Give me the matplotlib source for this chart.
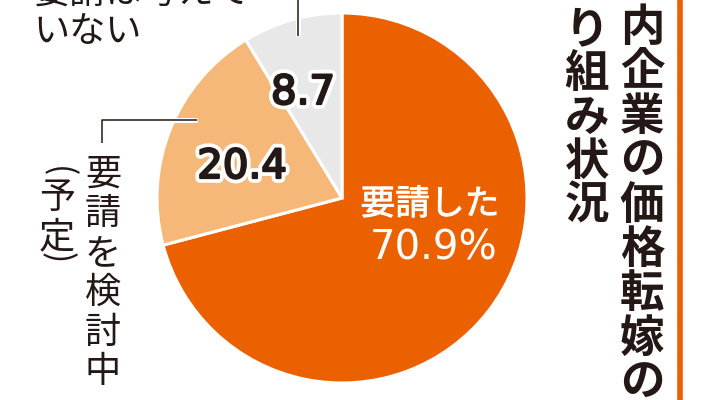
import matplotlib as mpl

mpl.use("Agg")

import matplotlib.pyplot as plt
from matplotlib import patheffects as pe

# shares of companies (%), clockwise from the top
categories = ["要請した", "要請を検討中", "要請は考えていない"]
shares = [70.9, 20.4, 8.7]
sub_note = "予定"
title_right = "内企業の価格転嫁の"
title_left = "り組み状況"

ORANGE = "#eb6100"
LIGHT = "#f5b878"
GRAY = "#e8e8e8"
INK = "#231815"
JP = ["Noto Sans CJK JP", "DejaVu Sans"]


def vtext(ax, x, y0, step, s, **kw):
    for i, ch in enumerate(s):
        ax.text(x, y0 + i * step, ch, ha="center", va="center", family=JP, **kw)


def main():
    fig = plt.figure(figsize=(7.11, 4.0), dpi=100)
    ax = fig.add_axes([0, 0, 1, 1])

    # pixel-like coordinates, y grows downward
    ax.pie(
        shares,
        colors=[ORANGE, LIGHT, GRAY],
        startangle=-90,
        counterclock=True,
        center=(342, 198),
        radius=185,
        wedgeprops=dict(edgecolor="white", linewidth=2.2),
    )
    ax.set_xlim(0, 711)
    ax.set_ylim(400, 0)
    ax.set_aspect("equal")
    ax.axis("off")

    # dark digits, slightly thickened, with a white halo
    halo = [
        pe.withStroke(linewidth=7, foreground="white"),
        pe.withStroke(linewidth=1.6, foreground=INK),
    ]
    ax.text(303, 93, f"{shares[2]}", ha="center", va="center", fontsize=29,
            color=INK, family="DejaVu Sans", path_effects=halo)
    ax.text(242, 167, f"{shares[1]}", ha="center", va="center", fontsize=29,
            color=INK, family="DejaVu Sans", path_effects=halo)

    ax.text(430, 205, categories[0], ha="center", va="center", fontsize=25,
            color="white", family=JP,
            path_effects=[pe.withStroke(linewidth=0.6, foreground="white")])
    ax.text(434, 249, f"{shares[0]}%", ha="center", va="center", fontsize=29,
            color="white", family="DejaVu Sans")

    # leader lines
    line_fx = [pe.Stroke(linewidth=3.6, foreground="white"), pe.Normal()]
    ax.plot([102, 102, 197], [143, 120, 120], color=INK, lw=1.1,
            solid_capstyle="butt", path_effects=line_fx)
    ax.plot([298, 298], [0, 36], color=INK, lw=1.1,
            solid_capstyle="butt", path_effects=line_fx)

    # left labels
    vtext(ax, 103, 175, 39.4, categories[1], fontsize=26, color=INK)
    ax.text(57, 172, "(", rotation=-90, ha="center", va="center",
            fontsize=24, color=INK, family=JP)
    vtext(ax, 57, 198, 39.4, sub_note, fontsize=26, color=INK)
    ax.text(57, 258, ")", rotation=-90, ha="center", va="center",
            fontsize=24, color=INK, family=JP)

    ax.text(33, -7, categories[2][:6], ha="left", va="center", fontsize=26,
            color=INK, family=JP)
    ax.text(33, 32, categories[2][6:], ha="left", va="center", fontsize=26,
            color=INK, family=JP)

    # title, vertical
    vtext(ax, 642, 28, 44.4, title_right, fontsize=32, fontweight="bold", color=INK)
    vtext(ax, 587, 30, 44.0, title_left, fontsize=32, fontweight="bold", color=INK)
    ax.plot([679.5, 679.5], [0, 400], color=ORANGE, lw=4, solid_capstyle="butt")

    fig.savefig("out.png", dpi=100)


if __name__ == "__main__":
    main()
